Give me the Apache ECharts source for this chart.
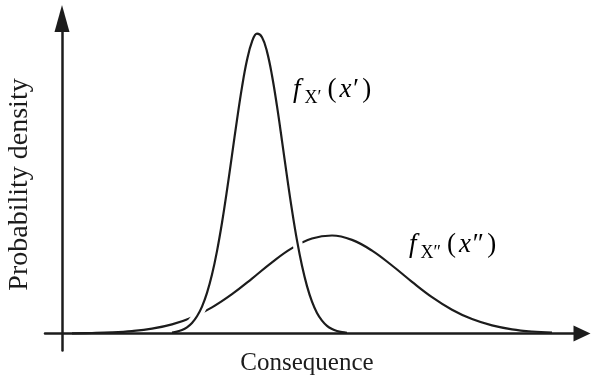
<!DOCTYPE html>
<html>
<head>
<meta charset="utf-8">
<script src="https://cdn.jsdelivr.net/npm/echarts@6/dist/echarts.min.js"></script>
<style>
  html, body { margin: 0; padding: 0; background: #fff; }
  #chart { width: 594px; height: 385px; }
</style>
</head>
<body>
<div id="chart"></div>
<script>
// Consequence positions (arbitrary units) and density values for the two distributions
const narrowX = [11, 11.5, 12, 12.5, 13, 13.5, 14, 14.5, 15, 15.5, 16, 16.5, 17, 17.5, 18, 18.5, 19, 19.5,
                 20, 20.5, 21, 21.5, 22, 22.5, 23, 23.5, 24, 24.5, 25, 25.5, 26, 26.5, 27, 27.5, 28, 28.5];
const narrowY = [0.010, 0.019, 0.035, 0.062, 0.105, 0.172, 0.269, 0.406, 0.589, 0.824, 1.107, 1.433, 1.784, 2.137,
                 2.464, 2.734, 2.918, 2.998, 2.963, 2.819, 2.580, 2.273, 1.927, 1.571, 1.233, 0.931, 0.677, 0.474,
                 0.319, 0.206, 0.129, 0.077, 0.045, 0.025, 0.013, 0.007];

const wideX = [1, 3, 5, 7, 9, 11, 13, 15, 17, 19, 21, 23, 25, 27, 29, 31, 33, 35, 37, 39, 41, 43, 45, 47, 49];
const wideY = [0.002, 0.005, 0.011, 0.024, 0.048, 0.091, 0.160, 0.261, 0.393, 0.549, 0.712, 0.854, 0.950, 0.980,
               0.936, 0.829, 0.680, 0.517, 0.364, 0.238, 0.144, 0.081, 0.042, 0.020, 0.009];

const xTitle = 'Consequence';
const yTitle = 'Probability density';

const ink = '#1c1c1c';
const serif = '"Liberation Serif", "DejaVu Serif", serif';

const pairs = (xs, ys) => xs.map((x, i) => [x, ys[i]]);
const narrow = pairs(narrowX, narrowY);
const wide = pairs(wideX, wideY);
// white gap behind the upper part of the narrow curve, where it crosses the wide one
const narrowGap = narrow.filter(p => p[1] >= 0.06);

const chart = echarts.init(document.getElementById('chart'), null, { renderer: 'canvas' });

const mathRich = {
  f: { fontFamily: serif, fontStyle: 'italic', fontSize: 27, color: ink, lineHeight: 30, verticalAlign: 'top', padding: [0, 3, 0, 0] },
  s: { fontFamily: serif, fontSize: 18, color: ink, lineHeight: 18, verticalAlign: 'top', padding: [13, 4, 0, 1] },
  p: { fontFamily: serif, fontSize: 27, color: ink, lineHeight: 30, verticalAlign: 'top', padding: [0, 2, 0, 2] },
  x: { fontFamily: serif, fontStyle: 'italic', fontSize: 27, color: ink, lineHeight: 30, verticalAlign: 'top', padding: [0, 3, 0, 1] }
};

chart.setOption({
  animation: false,
  backgroundColor: '#fff',
  grid: { left: 45, right: 12, top: 18.5, bottom: 34.5, containLabel: false, outerBoundsMode: 'none' },
  xAxis: {
    type: 'value', min: -1.7, max: 52, z: 10,
    axisLine: { onZero: true, symbol: ['none', 'triangle'], symbolSize: [16, 17],
                lineStyle: { color: ink, width: 2.5 } },
    axisTick: { show: false }, axisLabel: { show: false }, splitLine: { show: false },
    name: xTitle, nameLocation: 'middle', nameGap: 0,
    nameTextStyle: { fontFamily: serif, fontSize: 25, color: ink, padding: [0, 13, 0, 0] }
  },
  yAxis: {
    type: 'value', min: -0.17, max: 3.15, z: 10,
    axisLine: { onZero: true, symbol: ['none', 'triangle'], symbolSize: [15, 27],
                lineStyle: { color: ink, width: 2.5 } },
    axisTick: { show: false }, axisLabel: { show: false }, splitLine: { show: false },
    name: yTitle, nameLocation: 'middle', nameGap: 11, nameRotate: 90,
    nameTextStyle: { fontFamily: serif, fontSize: 28, color: ink }
  },
  series: [
    { type: 'line', data: wide, smooth: 0.4, showSymbol: false, z: 2,
      lineStyle: { color: ink, width: 2.2 } },
    { type: 'line', data: narrowGap, smooth: 0.4, showSymbol: false, z: 3,
      lineStyle: { color: '#fff', width: 10, cap: 'butt' } },
    { type: 'line', data: narrow, smooth: 0.4, showSymbol: false, z: 4,
      lineStyle: { color: ink, width: 2.2 } }
  ],
  graphic: [
    { type: 'text', left: 293, top: 76, z: 20,
      style: { text: '{f|f}{s|X′}{p|(}{x|x′}{p|)}', rich: mathRich } },
    { type: 'text', left: 409, top: 231, z: 20,
      style: { text: '{f|f}{s|X″}{p|(}{x|x″}{p|)}', rich: mathRich } }
  ]
});
</script>
</body>
</html>
